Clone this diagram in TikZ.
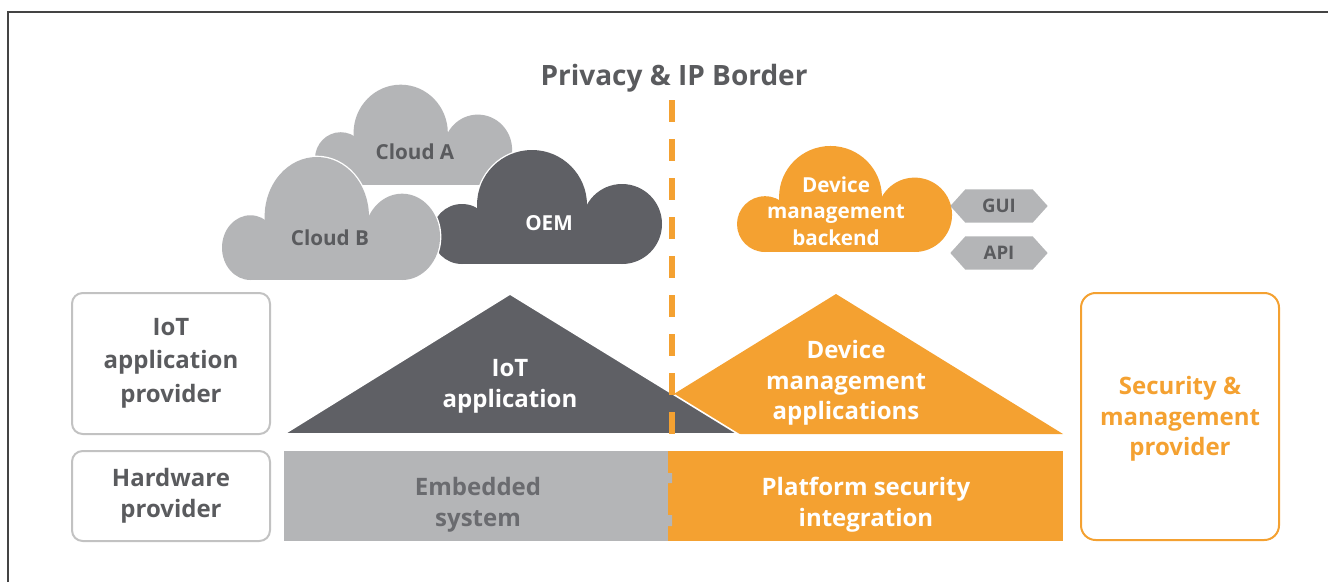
\documentclass[tikz,border=0pt]{standalone}
\usepackage{fontspec}
\setmainfont{Open Sans}
\usetikzlibrary{shapes.symbols}

\definecolor{darkgrey}{HTML}{5F6065}
\definecolor{lightgrey}{HTML}{B4B5B7}
\definecolor{textgrey}{HTML}{5A5B5E}
\definecolor{embgrey}{HTML}{6A6B6F}
\definecolor{boxgrey}{HTML}{C2C2C2}
\definecolor{framegrey}{HTML}{444444}
\definecolor{iotorange}{HTML}{F4A131}

\tikzset{
  lbl/.style={font=\bfseries\fontsize{18}{23}\selectfont, align=center, inner sep=0.75pt},
  cloudlbl/.style={font=\bfseries\fontsize{15.5}{20}\selectfont, align=center, inner sep=0.75pt},
  provbox/.style={line width=1.5pt, rounded corners=8pt},
  tag/.style={shape=signal, signal to=east and west, signal pointer angle=96,
    fill=lightgrey, minimum width=73pt, minimum height=25pt, inner sep=0pt,
    text=textgrey, font=\bfseries\fontsize{14}{16}\selectfont},
}

% cloud: colour, bottom left x, bottom left y, xscale, yscale
\newcommand\cloudblob[5]{%
  \begin{scope}[shift={(#2,#3)}, xscale=#4, yscale=#5]
    \draw[white, line width=2pt] (30,-30) circle (30) (100,-59) circle (55)
      (190,-40) circle (40) (30,-45) rectangle (190,0);
    \fill[#1] (30,-30) circle (30);
    \fill[#1] (100,-59) circle (55);
    \fill[#1] (190,-40) circle (40);
    \fill[#1] (30,-45) rectangle (190,0);
  \end{scope}}

\begin{document}
\begin{tikzpicture}[x=0.75pt,y=0.75pt,yscale=-1,xscale=1]
\useasboundingbox (0,0) rectangle (1328,582);

%Frame
\draw[framegrey, line width=1pt] (8,582) -- (8,12) -- (1328,12);

%Clouds
\cloudblob{lightgrey}{315}{185}{0.857}{0.88}
\cloudblob{darkgrey}{432}{264}{1}{1}
\cloudblob{lightgrey}{222}{280}{0.948}{1.079}
\cloudblob{iotorange}{737}{252}{0.935}{0.93}

%Triangles
\fill[iotorange] (609,434) -- (836,294) -- (1063,434) -- cycle;
\filldraw[fill=darkgrey, draw=white, line width=1.2pt] (284,434) -- (510,294) -- (738,434) -- cycle;

%Bottom layer
\fill[lightgrey] (284,451) rectangle (668,541);
\fill[iotorange] (668,451) rectangle (1063,541);
\fill[lightgrey] (667,473) rectangle (672,483) (667,515) rectangle (672,526);

%Provider boxes
\draw[provbox, draw=boxgrey] (72,293) rectangle (270,434);
\draw[provbox, draw=boxgrey] (72,451) rectangle (270,541);
\draw[provbox, draw=iotorange, rounded corners=11pt] (1081,293) rectangle (1279,540);

%Border
\draw[iotorange, line width=4.5pt, dash pattern=on 16.5pt off 12.75pt] (672,100) -- (672,435);

% Text Node
\node[font=\bfseries\fontsize{21}{25}\selectfont, text=textgrey, inner sep=0.75pt] (border) at (674,78) {Privacy \& IP Border};
% Text Node
\node[cloudlbl, text=textgrey] (clouda) at (415,152) {Cloud A};
% Text Node
\node[cloudlbl, text=textgrey] (cloudb) at (330,238) {Cloud B};
% Text Node
\node[cloudlbl, text=white] (oem) at (549,223) {OEM};
% Text Node
\node[cloudlbl, text=white] (backend) at (836,211) {Device\\management\\backend};
% Text Node
\node[tag] (gui) at (999,206) {GUI};
% Text Node
\node[tag] (api) at (999,253) {API};
% Text Node
\node[lbl, text=textgrey, font=\bfseries\fontsize{18}{25}\selectfont] (iotprov) at (171,363) {IoT\\application\\provider};
% Text Node
\node[lbl, text=textgrey] (hwprov) at (171,496) {Hardware\\provider};
% Text Node
\node[lbl, text=white] (iotapp) at (510,386) {IoT\\application};
% Text Node
\node[lbl, text=white] (devapp) at (846,383) {Device\\management\\applications};
% Text Node
\node[lbl, text=embgrey] (embedded) at (478,505) {Embedded\\system};
% Text Node
\node[lbl, text=white] (platform) at (866,505) {Platform security\\integration};
% Text Node
\node[lbl, text=iotorange] (secprov) at (1180,419) {Security \&\\management\\provider};

\end{tikzpicture}
\end{document}
